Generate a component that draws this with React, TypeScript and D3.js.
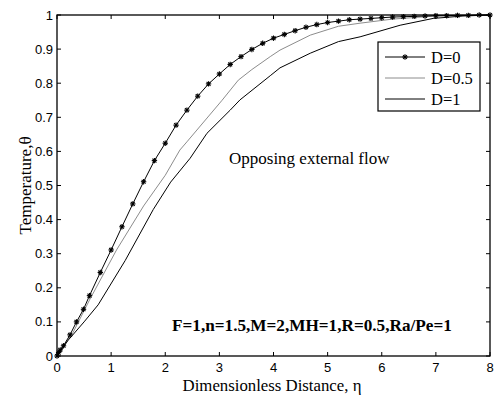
import React from "react";
import * as d3 from "d3";

const etaD0 = [0, 0.03, 0.06, 0.12, 0.24, 0.36, 0.49, 0.6, 0.8, 1.0, 1.2, 1.4, 1.6, 1.8, 2.0, 2.2, 2.4, 2.6, 2.8, 3.0, 3.2, 3.4, 3.6, 3.8, 4.0, 4.2, 4.4, 4.6, 4.8, 5.0, 5.2, 5.4, 5.6, 5.8, 6.0, 6.2, 6.4, 6.6, 6.8, 7.0, 7.2, 7.4, 7.6, 7.8, 8.0];
const thetaD0 = [0, 0.01, 0.018, 0.03, 0.062, 0.1, 0.137, 0.177, 0.245, 0.311, 0.379, 0.446, 0.511, 0.573, 0.624, 0.677, 0.721, 0.762, 0.798, 0.827, 0.855, 0.878, 0.899, 0.917, 0.932, 0.943, 0.954, 0.964, 0.972, 0.978, 0.982, 0.986, 0.988, 0.99, 0.992, 0.994, 0.995, 0.996, 0.997, 0.998, 0.998, 0.999, 0.999, 1.0, 1.0];

const etaD05 = [0, 0.1, 0.3, 0.6, 1.1, 1.6, 2.0, 2.27, 2.4, 3.05, 3.35, 3.6, 3.94, 4.12, 4.68, 5.2, 5.6, 6.2, 7.0, 8.0];
const thetaD05 = [0, 0.025, 0.07, 0.164, 0.311, 0.44, 0.53, 0.604, 0.628, 0.75, 0.809, 0.84, 0.878, 0.897, 0.941, 0.967, 0.976, 0.988, 0.997, 1.0];

const etaD1 = [0, 0.21, 0.5, 0.76, 1.26, 1.78, 2.1, 2.46, 2.77, 3.2, 3.38, 3.94, 4.12, 4.68, 5.2, 5.6, 6.34, 6.95, 7.5, 8.0];
const thetaD1 = [0, 0.047, 0.1, 0.15, 0.28, 0.43, 0.51, 0.58, 0.653, 0.721, 0.751, 0.822, 0.845, 0.888, 0.922, 0.936, 0.97, 0.99, 0.997, 1.0];

const xTicks = [0, 1, 2, 3, 4, 5, 6, 7, 8];
const yTicks = [0, 0.1, 0.2, 0.3, 0.4, 0.5, 0.6, 0.7, 0.8, 0.9, 1];
const legendLabels = ["D=0", "D=0.5", "D=1"];

const W = 498;
const H = 397;
const L = 57, R = 490, T = 15, B = 356;

function Star({ x, y }: { x: number; y: number }) {
  const s = 2.7;
  const d = s * 0.72;
  return (
    <g stroke="#000" strokeWidth={1.1}>
      <line x1={x - s} y1={y} x2={x + s} y2={y} />
      <line x1={x} y1={y - s} x2={x} y2={y + s} />
      <line x1={x - d} y1={y - d} x2={x + d} y2={y + d} />
      <line x1={x - d} y1={y + d} x2={x + d} y2={y - d} />
    </g>
  );
}

export default function App() {
  const x = d3.scaleLinear().domain([0, 8]).range([L, R]);
  const y = d3.scaleLinear().domain([0, 1]).range([B, T]);
  const line = d3
    .line<[number, number]>()
    .x((d) => x(d[0]))
    .y((d) => y(d[1]));
  const d0 = etaD0.map((e, i) => [e, thetaD0[i]] as [number, number]);
  const d05 = etaD05.map((e, i) => [e, thetaD05[i]] as [number, number]);
  const d1 = etaD1.map((e, i) => [e, thetaD1[i]] as [number, number]);
  const tick = 4;
  const serif = "'Liberation Serif', 'Times New Roman', serif";
  const sans = "'Liberation Sans', Arial, sans-serif";
  const legRows = [57, 78, 99];

  return (
    <svg
      width={W}
      height={H}
      style={{ position: "absolute", left: 0, top: 0, background: "#fff" }}
    >
      <rect x={0} y={0} width={W} height={H} fill="#fff" />
      {/* curves */}
      <path d={line(d05) || ""} fill="none" stroke="#8c8c8c" strokeWidth={1} />
      <path d={line(d1) || ""} fill="none" stroke="#000" strokeWidth={1} />
      <path d={line(d0) || ""} fill="none" stroke="#000" strokeWidth={1} />
      {d0.map((p, i) => (
        <Star key={i} x={x(p[0])} y={y(p[1])} />
      ))}
      {/* axes box */}
      <rect x={L} y={T} width={R - L} height={B - T} fill="none" stroke="#000" strokeWidth={1.3} />
      {xTicks.map((t) => (
        <g key={"x" + t}>
          <line x1={x(t)} y1={B} x2={x(t)} y2={B - tick} stroke="#000" />
          <line x1={x(t)} y1={T} x2={x(t)} y2={T + tick} stroke="#000" />
          <text x={x(t)} y={372} fontFamily={sans} fontSize={13} textAnchor="middle">
            {t}
          </text>
        </g>
      ))}
      {yTicks.map((t) => (
        <g key={"y" + t}>
          <line x1={L} y1={y(t)} x2={L + tick} y2={y(t)} stroke="#000" />
          <line x1={R} y1={y(t)} x2={R - tick} y2={y(t)} stroke="#000" />
          <text x={53} y={y(t) + 4.5} fontFamily={sans} fontSize={13} textAnchor="end">
            {t}
          </text>
        </g>
      ))}
      {/* axis labels */}
      <text x={272} y={391} fontFamily={serif} fontSize={16.8} textAnchor="middle">
        Dimensionless Distance, η
      </text>
      <text
        transform={`translate(31, ${(T + B) / 2}) rotate(-90)`}
        fontFamily={serif}
        fontSize={17}
        textAnchor="middle"
      >
        Temperature,θ
      </text>
      {/* annotations */}
      <text x={229} y={164} fontFamily={serif} fontSize={17}>
        Opposing external flow
      </text>
      <text x={172} y={331} fontFamily={serif} fontSize={17.2} fontWeight="bold">
        F=1,n=1.5,M=2,MH=1,R=0.5,Ra/Pe=1
      </text>
      {/* legend */}
      <rect x={378} y={42} width={102} height={69} fill="#fff" stroke="#000" strokeWidth={1.2} />
      {legendLabels.map((lab, i) => (
        <g key={lab}>
          <line
            x1={385}
            x2={425}
            y1={legRows[i]}
            y2={legRows[i]}
            stroke={i === 1 ? "#8c8c8c" : "#000"}
            strokeWidth={1}
          />
          {i === 0 && <Star x={405} y={legRows[i]} />}
          <text x={431} y={legRows[i] + 6} fontFamily={serif} fontSize={16.5}>
            {lab}
          </text>
        </g>
      ))}
    </svg>
  );
}
